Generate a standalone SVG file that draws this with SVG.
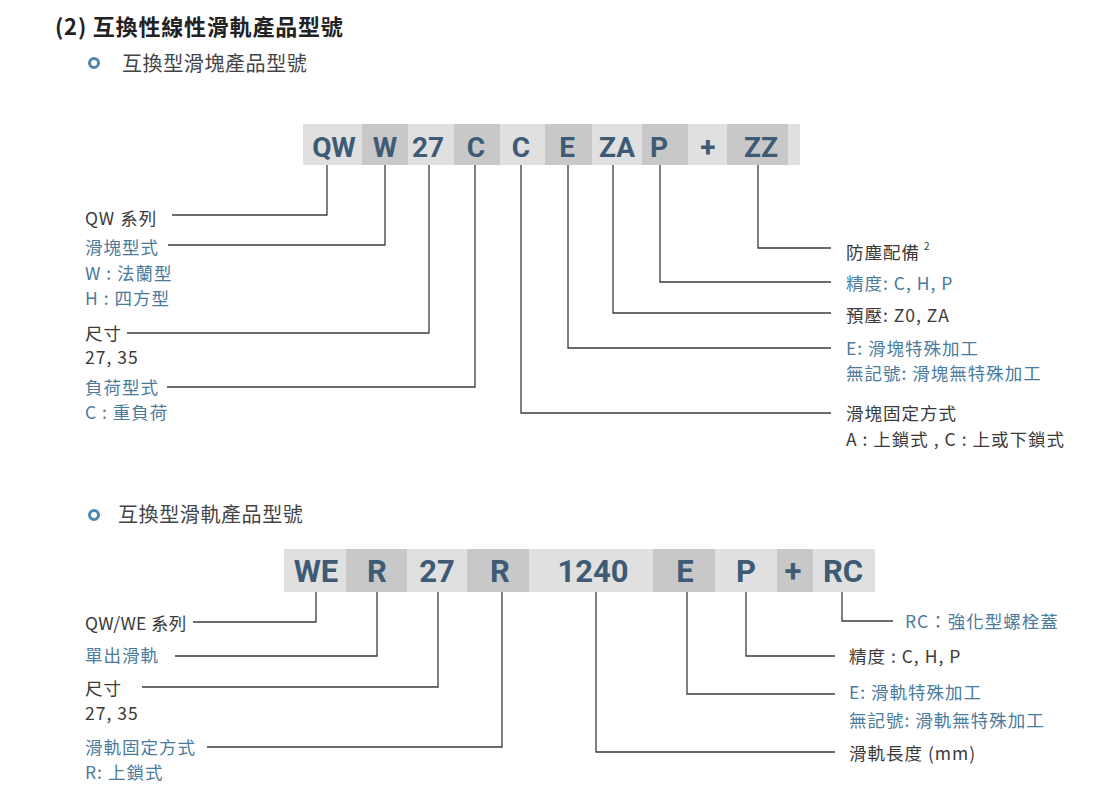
<svg xmlns="http://www.w3.org/2000/svg" width="1108" height="790" viewBox="0 0 1108 790">
<defs>
<style>
.title{font-family:"Noto Sans CJK TC","Noto Sans CJK SC",sans-serif;font-size:22px;font-weight:700;fill:#222;letter-spacing:0.8px}
.sub{font-family:"Noto Sans CJK TC","Noto Sans CJK SC",sans-serif;font-size:20px;fill:#444;letter-spacing:0.6px}
.dot{fill:none;stroke:#4f86ad;stroke-width:3}
.lt{fill:#e0e0e0}
.dk{fill:#c8c8c8}
.code{font-family:Roboto,"Liberation Sans",sans-serif;font-weight:700;fill:#3e5b76;text-anchor:middle}
.c1{font-size:28px}
.c2{font-size:31px}
.lb{font-family:"Noto Sans CJK TC","Noto Sans CJK SC",sans-serif;font-size:17.5px;fill:#3a3a3a;letter-spacing:1px}
.tight{letter-spacing:0.3px}
.bl{fill:#4a7b9c}
.conn path{fill:none;stroke:#3c3c3c;stroke-width:1.3}
</style>
</defs>
<rect width="1108" height="790" fill="#ffffff"/>

<g id="title"><text class="title" x="55" y="35">(2) 互換性線性滑軌產品型號</text></g>
<g id="subtitle-block"><circle class="dot" cx="94" cy="63" r="4.5"/><text class="sub" x="122" y="71">互換型滑塊產品型號</text></g>
<g id="subtitle-rail"><circle class="dot" cx="94" cy="515" r="4.5"/><text class="sub" x="118" y="522">互換型滑軌產品型號</text></g>

<!-- Top code bar -->
<g id="block-code">
<g id="b-qw"><rect class="lt" x="303" y="124" width="59" height="41"/><text class="code c1" x="334" y="157">QW</text></g>
<g id="b-w"><rect class="dk" x="362" y="124" width="46" height="41"/><text class="code c1" x="385" y="157">W</text></g>
<g id="b-27"><rect class="lt" x="408" y="124" width="46" height="41"/><text class="code c1" x="428" y="157">27</text></g>
<g id="b-c1"><rect class="dk" x="454" y="124" width="46" height="41"/><text class="code c1" x="476" y="157">C</text></g>
<g id="b-c2"><rect class="lt" x="500" y="124" width="45" height="41"/><text class="code c1" x="521" y="157">C</text></g>
<g id="b-e"><rect class="dk" x="545" y="124" width="47" height="41"/><text class="code c1" x="567" y="157">E</text></g>
<g id="b-za"><rect class="lt" x="592" y="124" width="50" height="41"/><text class="code c1" x="617" y="157">ZA</text></g>
<g id="b-p"><rect class="dk" x="642" y="124" width="46" height="41"/><text class="code c1" x="659" y="157">P</text></g>
<g id="b-plus"><rect class="lt" x="688" y="124" width="39" height="41"/><text class="code c1" x="708" y="157">+</text></g>
<g id="b-zz"><rect class="dk" x="727" y="124" width="61" height="41"/><text class="code c1" x="761" y="157">ZZ</text></g>
<rect class="lt" x="788" y="124" width="12" height="41"/>
</g>

<!-- Bottom code bar -->
<g id="rail-code">
<g id="r-we"><rect class="lt" x="284" y="549" width="62" height="43"/><text class="code c2" x="316" y="582">WE</text></g>
<g id="r-r1"><rect class="dk" x="346" y="549" width="61" height="43"/><text class="code c2" x="377" y="582">R</text></g>
<g id="r-27"><rect class="lt" x="407" y="549" width="60" height="43"/><text class="code c2" x="437" y="582">27</text></g>
<g id="r-r2"><rect class="dk" x="467" y="549" width="62" height="43"/><text class="code c2" x="500" y="582">R</text></g>
<g id="r-1240"><rect class="lt" x="529" y="549" width="124" height="43"/><text class="code c2" x="593" y="582">1240</text></g>
<g id="r-e"><rect class="dk" x="653" y="549" width="62" height="43"/><text class="code c2" x="685" y="582">E</text></g>
<g id="r-p"><rect class="lt" x="715" y="549" width="62" height="43"/><text class="code c2" x="746" y="582">P</text></g>
<g id="r-plus"><rect class="dk" x="777" y="549" width="36" height="43"/><text class="code c2" x="793" y="582">+</text></g>
<g id="r-rc"><rect class="lt" x="813" y="549" width="62" height="43"/><text class="code c2" x="843" y="582">RC</text></g>
</g>

<!-- Connectors -->
<g id="connectors" class="conn">
<path d="M327 165 V215 H172"/>
<path d="M385 165 V245 H168"/>
<path d="M429 165 V333 H127"/>
<path d="M475 165 V387 H167"/>
<path d="M521 165 V413 H831"/>
<path d="M568 165 V348 H831"/>
<path d="M613 165 V313 H831"/>
<path d="M660 165 V282 H831"/>
<path d="M758 165 V248 H831"/>
<path d="M316 592 V622 H193"/>
<path d="M377 592 V656 H175"/>
<path d="M438 592 V687 H142"/>
<path d="M502 592 V747 H207"/>
<path d="M596 592 V752 H835"/>
<path d="M687 592 V694 H835"/>
<path d="M746 592 V656 H835"/>
<path d="M842 592 V621 H893"/>
</g>

<!-- Top labels left -->
<g id="lbl-series"><text class="lb" x="85" y="225">QW 系列</text></g>
<g id="lbl-blocktype"><text class="lb bl" x="85" y="254">滑塊型式</text><text class="lb bl" x="85" y="280">W : 法蘭型</text><text class="lb bl" x="85" y="305">H : 四方型</text></g>
<g id="lbl-size"><text class="lb" x="85" y="340">尺寸</text><text class="lb" x="85" y="364">27, 35</text></g>
<g id="lbl-load"><text class="lb bl" x="85" y="394">負荷型式</text><text class="lb bl" x="85" y="419">C : 重負荷</text></g>

<!-- Top labels right -->
<g id="lbl-dust"><text class="lb" x="846" y="259">防塵配備<tspan font-size="10" dx="4" dy="-9">2</tspan></text></g>
<g id="lbl-precision"><text class="lb bl" x="846" y="290">精度:  C, H, P</text></g>
<g id="lbl-preload"><text class="lb" x="846" y="322">預壓:  Z0, ZA</text></g>
<g id="lbl-blockspecial"><text class="lb bl" x="846" y="355">E: 滑塊特殊加工</text><text class="lb bl" x="846" y="380">無記號: 滑塊無特殊加工</text></g>
<g id="lbl-fix"><text class="lb" x="846" y="420">滑塊固定方式</text><text class="lb" x="846" y="446">A : 上鎖式 , C : 上或下鎖式</text></g>

<!-- Bottom labels left -->
<g id="lbl-rseries"><text class="lb tight" x="85" y="630">QW/WE 系列</text></g>
<g id="lbl-single"><text class="lb bl" x="85" y="662">單出滑軌</text></g>
<g id="lbl-rsize"><text class="lb" x="85" y="695">尺寸</text><text class="lb" x="85" y="720">27, 35</text></g>
<g id="lbl-rfix"><text class="lb bl" x="85" y="754">滑軌固定方式</text><text class="lb bl" x="85" y="779">R: 上鎖式</text></g>

<!-- Bottom labels right -->
<g id="lbl-rc"><text class="lb bl" x="905" y="628">RC：強化型螺栓蓋</text></g>
<g id="lbl-rprecision"><text class="lb" x="849" y="663">精度 : C, H, P</text></g>
<g id="lbl-railspecial"><text class="lb bl" x="849" y="699">E: 滑軌特殊加工</text><text class="lb bl" x="849" y="727">無記號: 滑軌無特殊加工</text></g>
<g id="lbl-length"><text class="lb" x="849" y="760">滑軌長度 (mm)</text></g>
</svg>
